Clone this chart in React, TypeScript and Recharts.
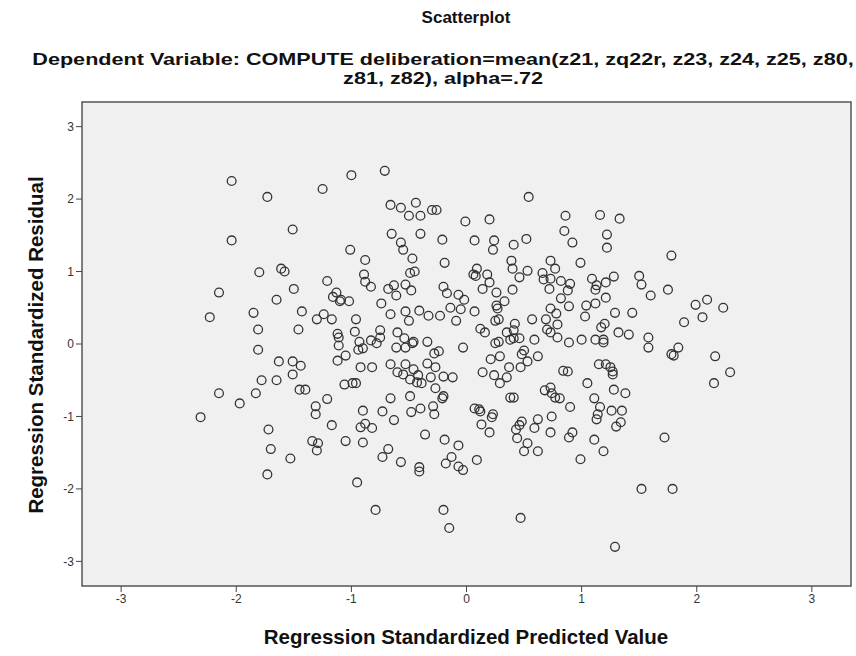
import React from 'react'
import { ScatterChart, Scatter, XAxis, YAxis, CartesianGrid, ReferenceArea } from 'recharts'

// titles and axis text
const chartTitle = 'Scatterplot'
const subtitleLines = [
  'Dependent Variable: COMPUTE deliberation=mean(z21, zq22r, z23, z24, z25, z80,',
  'z81, z82), alpha=.72',
]
const xTitle = 'Regression Standardized Predicted Value'
const yTitle = 'Regression Standardized Residual'

const axisTicks = [-3, -2, -1, 0, 1, 2, 3]
const axisDomain: [number, number] = [-3.34, 3.34]

// [standardized predicted value, standardized residual]
const leftPoints: [number, number][] = [
  [-2.04, 2.25], [-1.73, 2.03], [-1.51, 1.58], [-2.04, 1.43], [-1.80, 0.99], [-1.61, 1.04],
  [-1.58, 1.00], [-1.50, 0.76], [-2.15, 0.71], [-1.65, 0.61], [-1.85, 0.43], [-2.23, 0.37],
  [-1.81, 0.20], [-1.81, -0.08], [-1.63, -0.24], [-1.51, -0.24], [-1.78, -0.50], [-1.65, -0.50],
  [-1.51, -0.42], [-2.15, -0.68], [-1.83, -0.68], [-1.97, -0.82], [-2.31, -1.01], [-1.72, -1.18],
  [-1.70, -1.45], [-1.53, -1.58], [-1.73, -1.80],
]

const rightPoints: [number, number][] = [
  [1.78, 1.22], [1.75, 0.75], [1.99, 0.54], [2.09, 0.61], [2.23, 0.50], [2.05, 0.37],
  [1.89, 0.30], [1.84, -0.05], [1.78, -0.14], [1.80, -0.16], [2.16, -0.17], [2.29, -0.39],
  [2.15, -0.54], [1.72, -1.29], [1.79, -2.00],
]

const centerLeftUpper: [number, number][] = [
  [-1.25, 2.14], [-1.00, 2.33], [-0.71, 2.39], [-0.66, 1.92], [-0.57, 1.88], [-0.44, 1.95],
  [-0.50, 1.77], [-0.40, 1.77], [-0.30, 1.85], [-0.26, 1.85], [-0.01, 1.69], [-0.65, 1.52],
  [-0.40, 1.52], [-0.21, 1.44], [0.07, 1.43], [-1.01, 1.30], [-0.57, 1.40], [-0.55, 1.30],
  [-0.88, 1.16], [-0.47, 1.18], [-0.19, 1.12], [-0.49, 0.98], [-0.45, 1.00], [0.09, 1.04],
  [0.06, 0.96], [0.08, 0.94], [0.18, 0.96], [-1.21, 0.87], [-0.89, 0.96], [-0.88, 0.86],
  [-0.83, 0.79], [-0.68, 0.76], [-0.63, 0.81], [-0.61, 0.67], [-0.53, 0.82], [-0.48, 0.74],
  [-0.20, 0.79], [-0.17, 0.70], [-0.07, 0.68], [-0.02, 0.61], [0.14, 0.76], [-1.13, 0.71],
  [-1.16, 0.65], [-1.09, 0.61], [-1.10, 0.59], [-1.02, 0.59], [-0.74, 0.56], [-1.43, 0.45],
  [-1.24, 0.41], [-1.30, 0.34], [-1.17, 0.34], [-0.96, 0.34], [-0.66, 0.41], [-0.53, 0.45],
  [-0.50, 0.32], [-0.41, 0.46], [-0.33, 0.39], [-0.23, 0.39], [-0.14, 0.50], [-0.05, 0.48],
  [-0.09, 0.32], [0.07, 0.45], [0.12, 0.21], [-1.46, 0.20], [-1.12, 0.14], [-1.11, 0.09],
  [-0.97, 0.17], [-0.75, 0.19], [-0.75, 0.09], [-0.83, 0.05], [-0.93, 0.03], [-0.60, 0.16],
  [-0.54, 0.08], [-0.47, 0.01], [-0.46, 0.03], [-0.34, 0.03], [-0.78, 0.01],
]

const centerLeftLower: [number, number][] = [
  [-1.11, -0.02], [-0.94, -0.08], [-0.90, -0.06], [-0.61, -0.05], [-0.53, -0.05], [-0.03, -0.05],
  [-0.28, -0.13], [-0.24, -0.10], [-1.44, -0.30], [-1.12, -0.23], [-1.05, -0.16], [-0.92, -0.32],
  [-0.82, -0.32], [-0.66, -0.28], [-0.60, -0.39], [-0.53, -0.28], [-0.55, -0.42], [-0.46, -0.35],
  [-0.49, -0.49], [-0.42, -0.43], [-0.43, -0.53], [-0.39, -0.54], [-0.34, -0.27], [-0.27, -0.32],
  [-0.31, -0.46], [-0.20, -0.45], [-0.12, -0.46], [-0.27, -0.61], [-0.20, -0.72], [-0.21, -0.75],
  [-1.06, -0.56], [-0.99, -0.54], [-0.96, -0.54], [-1.45, -0.63], [-1.40, -0.63], [-1.21, -0.76],
  [-1.31, -0.86], [-1.31, -0.97], [-0.90, -0.92], [-0.73, -0.93], [-0.66, -0.75], [-0.49, -0.72],
  [-0.48, -0.94], [-0.40, -0.89], [-0.29, -0.86], [-0.28, -0.97], [-0.63, -1.05], [-1.17, -1.12],
  [-0.92, -1.15], [-0.88, -1.10], [-0.82, -1.16], [-0.36, -1.25], [-0.19, -1.32], [-0.07, -1.40],
  [-1.34, -1.34], [-1.29, -1.37], [-1.30, -1.47], [-1.05, -1.34], [-0.90, -1.36], [-0.68, -1.45],
  [-0.73, -1.56], [-0.57, -1.63], [-0.41, -1.70], [-0.41, -1.76], [-0.13, -1.56], [-0.18, -1.65],
  [-0.07, -1.69], [-0.03, -1.74], [0.09, -1.60], [0.07, -0.89], [0.11, -0.90], [0.12, -0.93],
  [0.13, -1.11], [0.14, -0.39], [-0.95, -1.91], [-0.79, -2.29], [-0.20, -2.29], [-0.15, -2.54],
]

const centerRightUpper: [number, number][] = [
  [0.54, 2.03], [0.20, 1.72], [0.86, 1.77], [1.16, 1.78], [1.33, 1.73], [0.85, 1.56],
  [0.92, 1.40], [1.22, 1.51], [1.22, 1.33], [0.24, 1.43], [0.23, 1.30], [0.41, 1.37],
  [0.52, 1.45], [0.99, 1.12], [0.39, 1.15], [0.40, 1.04], [0.53, 1.01], [0.46, 0.92],
  [0.20, 0.85], [0.26, 0.71], [0.40, 0.75], [0.66, 0.98], [0.67, 0.89], [0.73, 0.90],
  [0.73, 1.15], [0.77, 1.04], [0.82, 0.87], [0.72, 0.76], [0.90, 0.83], [0.88, 0.74],
  [0.82, 0.63], [0.89, 0.52], [1.09, 0.90], [1.13, 0.81], [1.12, 0.75], [1.21, 0.85],
  [1.28, 0.93], [1.21, 0.64], [1.04, 0.53], [1.12, 0.56], [1.50, 0.94], [1.52, 0.82],
  [1.60, 0.67], [0.33, 0.59], [0.26, 0.53], [0.27, 0.49], [0.73, 0.49], [0.78, 0.42],
  [1.03, 0.38], [1.29, 0.43], [1.44, 0.43], [0.57, 0.34], [0.69, 0.34], [0.79, 0.27],
  [0.70, 0.20], [0.73, 0.16], [0.79, 0.09], [0.25, 0.32], [0.28, 0.34], [0.42, 0.28],
  [0.41, 0.19], [0.35, 0.16], [0.16, 0.16], [0.38, 0.06], [0.41, 0.08], [0.46, 0.08],
  [0.59, 0.06], [0.25, 0.01], [0.28, 0.03], [0.89, 0.02], [1.00, 0.06], [1.17, 0.23],
  [1.20, 0.28], [1.12, 0.06], [1.19, 0.06], [1.19, 0.02], [1.32, 0.16], [1.41, 0.13],
  [1.58, 0.09], [1.58, -0.05], [0.50, -0.09],
]

const centerRightLower: [number, number][] = [
  [0.21, -0.21], [0.29, -0.17], [0.24, -0.43], [0.29, -0.54], [0.35, -0.46], [0.37, -0.32],
  [0.47, -0.32], [0.48, -0.14], [0.53, -0.24], [0.62, -0.17], [0.84, -0.37], [0.88, -0.38],
  [1.05, -0.54], [1.15, -0.28], [1.21, -0.28], [1.25, -0.32], [1.27, -0.38], [1.27, -0.42],
  [1.28, -0.63], [1.38, -0.68], [0.68, -0.64], [0.73, -0.60], [0.74, -0.68], [0.77, -0.74],
  [0.81, -0.75], [0.90, -0.87], [1.11, -0.75], [1.16, -0.87], [1.14, -0.97], [1.13, -1.04],
  [1.26, -0.92], [1.35, -0.92], [1.34, -1.08], [1.30, -1.14], [0.38, -0.74], [0.41, -0.74],
  [0.23, -0.97], [0.22, -1.01], [0.20, -1.22], [0.43, -1.18], [0.46, -1.12], [0.48, -1.07],
  [0.44, -1.30], [0.53, -1.37], [0.50, -1.48], [0.62, -1.48], [0.59, -1.16], [0.62, -1.04],
  [0.74, -1.00], [0.73, -1.22], [0.92, -1.22], [0.89, -1.29], [1.11, -1.32], [1.19, -1.48],
  [0.99, -1.59], [1.52, -2.00], [0.47, -2.40], [1.29, -2.80],
]

const allPoints = [
  ...leftPoints, ...rightPoints, ...centerLeftUpper,
  ...centerLeftLower, ...centerRightUpper, ...centerRightLower,
].map(([x, y]) => ({ x, y }))

const FONT = '"Liberation Sans", Arial, sans-serif'

const OpenCircle = (props: any) => {
  const { cx, cy } = props
  if (cx == null || cy == null) return null
  return <circle cx={cx} cy={cy} r={4.4} fill="none" stroke="#333" strokeWidth={1.3} />
}

export default function App() {
  return (
    <div style={{ position: 'absolute', left: 0, top: 0, width: 856, height: 656, background: '#fff', fontFamily: FONT }}>
      {/* titles */}
      <div style={{ position: 'absolute', left: 0, width: 932, top: 8, textAlign: 'center', fontWeight: 'bold', fontSize: 17, lineHeight: '20px', color: '#111' }}>
        {chartTitle}
      </div>
      {subtitleLines.map((line, i) => (
        <div key={i} style={{ position: 'absolute', left: 0, width: 886, top: 51 + i * 19, textAlign: 'center', fontWeight: 'bold', fontSize: 17, lineHeight: '17px', color: '#111', whiteSpace: 'nowrap', transform: 'scaleX(1.27)' }}>
          {line}
        </div>
      ))}

      <ScatterChart width={856} height={656} margin={{ top: 102, right: 5, bottom: 0, left: 0 }}>
        <CartesianGrid fill="#f0f0f0" horizontal={false} vertical={false} />
        <ReferenceArea x1={axisDomain[0]} x2={axisDomain[1]} y1={axisDomain[0]} y2={axisDomain[1]} fill="none" stroke="#555" strokeWidth={1.5} />
        <XAxis
          type="number"
          dataKey="x"
          domain={axisDomain}
          ticks={axisTicks}
          allowDataOverflow
          height={70}
          axisLine={false}
          tickLine={{ stroke: '#444' }}
          tickSize={6}
          tick={{ fontSize: 12, fill: '#333', fontFamily: FONT }}
        />
        <YAxis
          type="number"
          dataKey="y"
          domain={axisDomain}
          ticks={axisTicks}
          allowDataOverflow
          width={82}
          axisLine={false}
          tickLine={{ stroke: '#444' }}
          tickSize={6}
          tick={{ fontSize: 12, fill: '#333', fontFamily: FONT }}
        />
        <Scatter data={allPoints} shape={OpenCircle} isAnimationActive={false} />
      </ScatterChart>

      {/* axis titles */}
      <div style={{ position: 'absolute', left: 0, width: 932, top: 626, textAlign: 'center', fontWeight: 'bold', fontSize: 20.5, lineHeight: '22px', color: '#111' }}>
        {xTitle}
      </div>
      <div style={{ position: 'absolute', left: 36, top: 345, width: 0, height: 0 }}>
        <div style={{ position: 'absolute', left: -250, top: -11, width: 500, textAlign: 'center', transform: 'rotate(-90deg)', fontWeight: 'bold', fontSize: 20.5, lineHeight: '22px', color: '#111', whiteSpace: 'nowrap' }}>
          {yTitle}
        </div>
      </div>
    </div>
  )
}
